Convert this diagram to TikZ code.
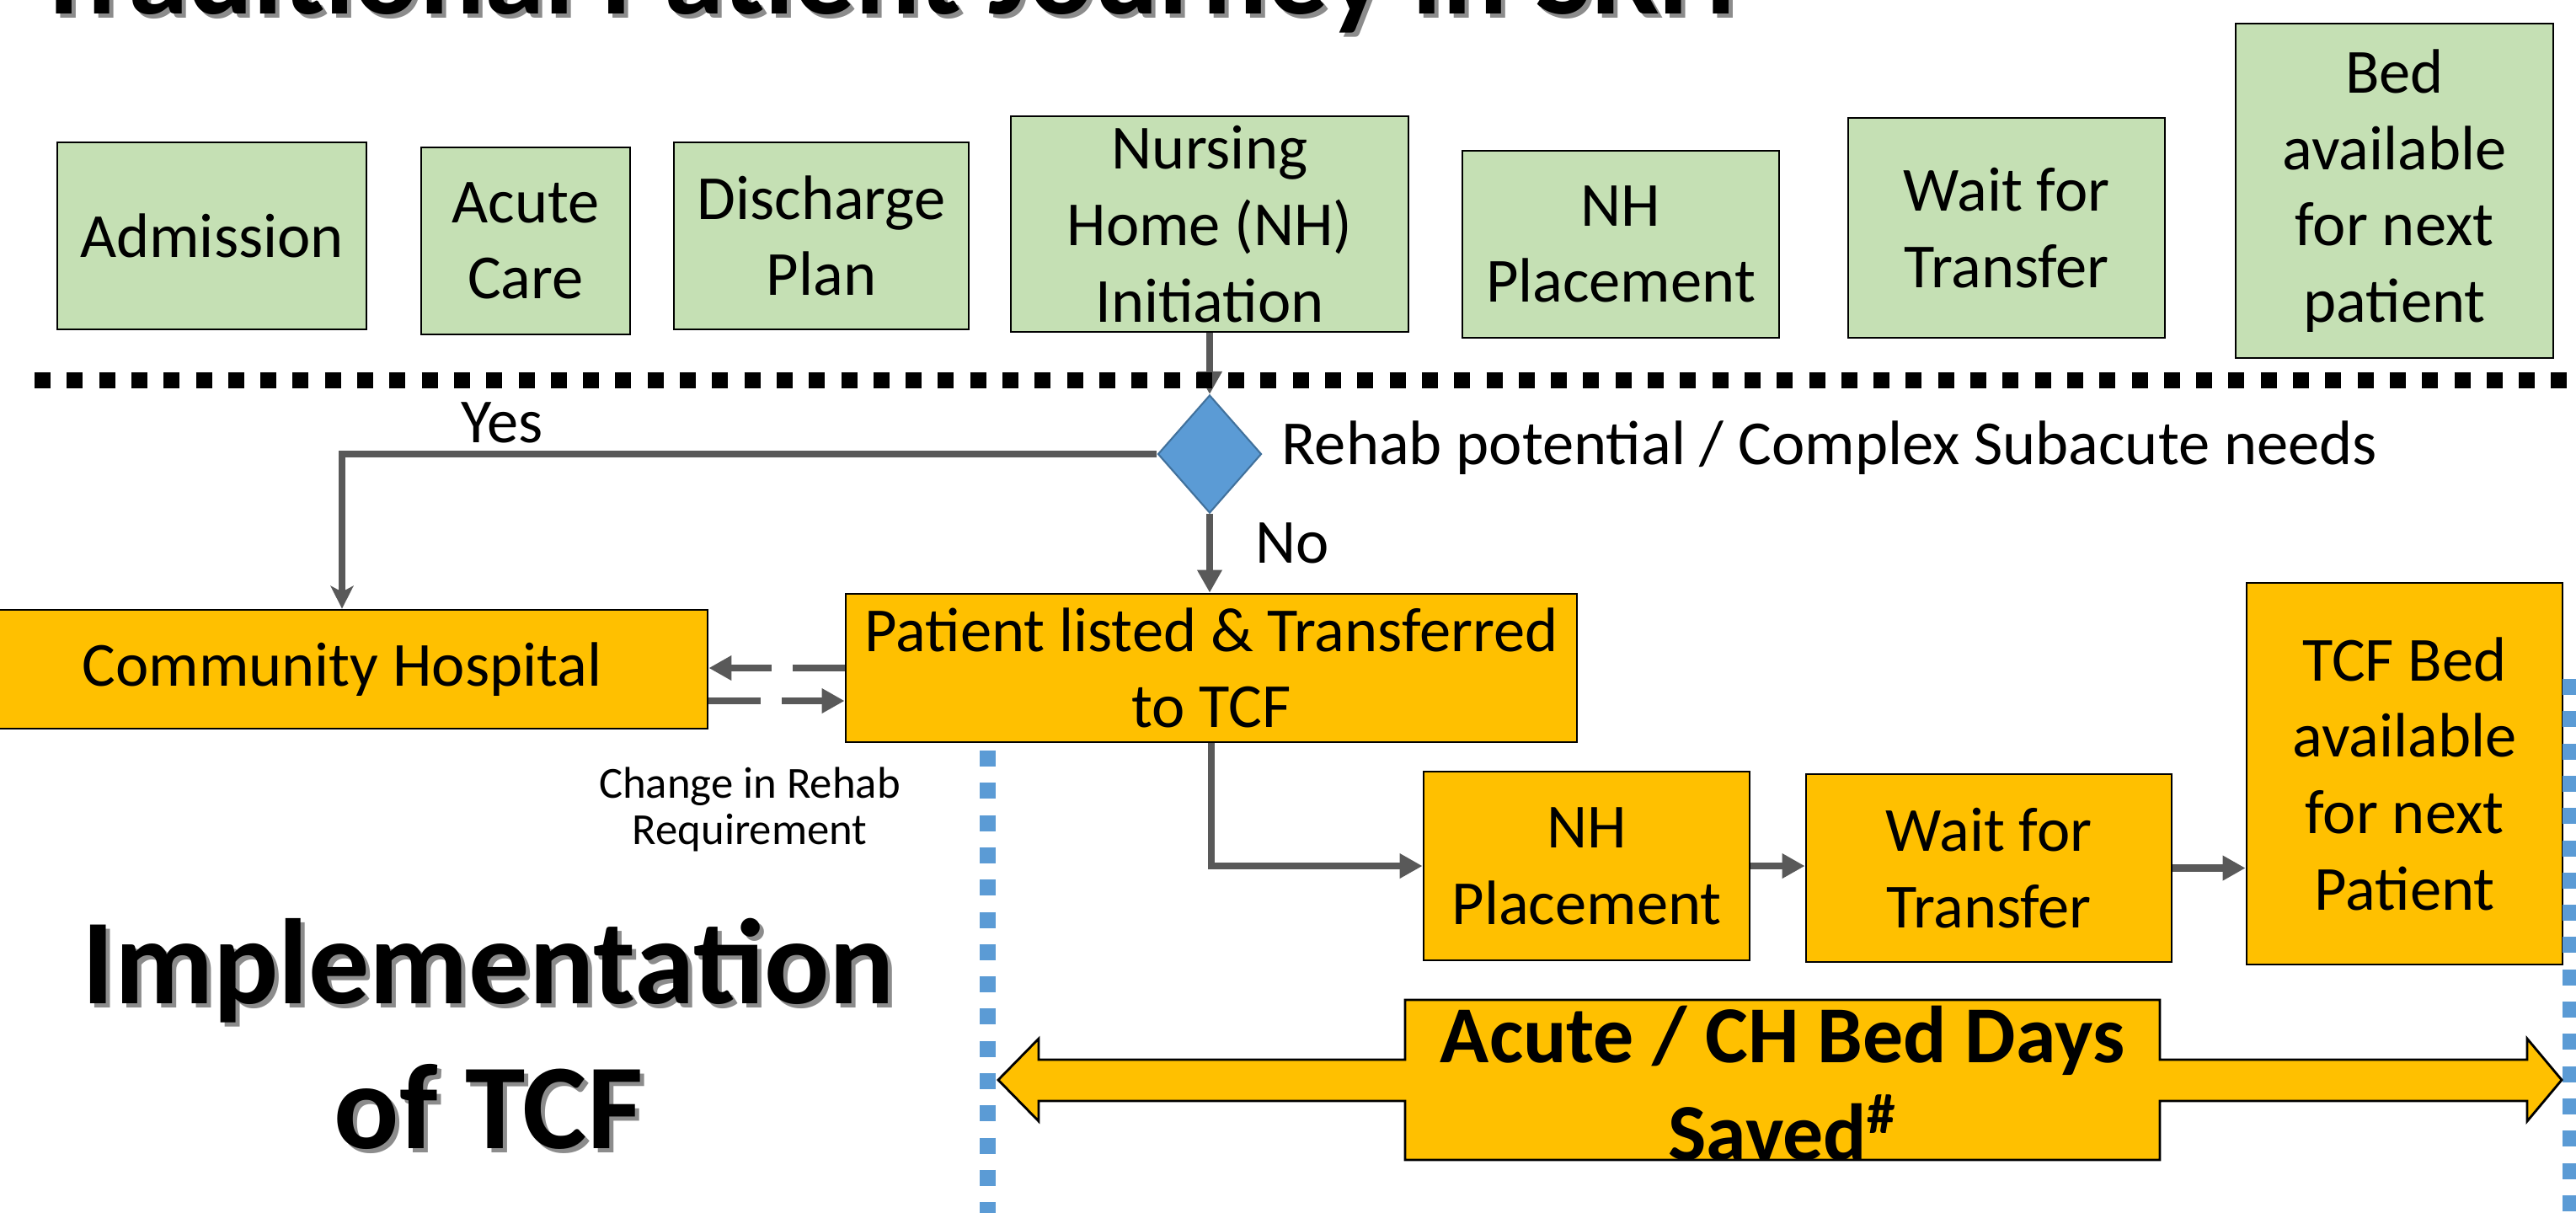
\documentclass[tikz,border=0pt]{standalone}
\usepackage{fontspec}
\setmainfont{Carlito}
\usetikzlibrary{arrows.meta,calc,shapes.geometric,positioning}
\definecolor{boxgreen}{HTML}{C5E0B4}
\definecolor{boxorange}{HTML}{FFC000}
\definecolor{diablue}{HTML}{5B9BD5}
\definecolor{diaedge}{HTML}{41719C}
\definecolor{linegray}{HTML}{595959}
\definecolor{shadowgray}{HTML}{8C8C8C}
\newcommand{\boxfont}{\fontsize{21.2}{25.8}\selectfont}
\newcommand{\headfont}{\fontsize{41}{49}\selectfont\bfseries}
\tikzset{
  box/.style={draw=black, line width=0.8pt, align=center, inner sep=0pt, font=\boxfont},
  greenbox/.style={box, fill=boxgreen},
  orangebox/.style={box, fill=boxorange},
  flow/.style={draw=linegray, line width=0.085cm, -{Triangle[length=0.27cm,width=0.28cm]}},
  dasharr/.style={flow, dash pattern=on 0.62cm off 0.25cm},
  squaredots/.style={line width=0.19cm, dash pattern=on 0.19cm off 0.193cm},
  label/.style={inner sep=0pt, font=\boxfont}
}

\begin{document}
\begin{tikzpicture}
\useasboundingbox (0,0) rectangle (30.58,-14.39);

\node[font=\headfont, text=shadowgray, anchor=base] (titleshadow) at (10.55,-0.21) {Traditional Patient Journey in SKH};
\node[font=\headfont, anchor=base] (title) at (10.50,-0.16) {Traditional Patient Journey in SKH};

\node[greenbox, minimum width=3.67cm, minimum height=2.22cm] (adm) at (2.515,-2.80) {Admission};
\node[greenbox, minimum width=2.48cm, minimum height=2.22cm] (acute) at (6.24,-2.86) {Acute\\Care};
\node[greenbox, minimum width=3.50cm, minimum height=2.22cm] (plan) at (9.75,-2.80) {Discharge\\Plan};
\node[greenbox, minimum width=4.72cm, minimum height=2.56cm] (init) at (14.36,-2.66) {Nursing\\Home (NH)\\Initiation};
\node[greenbox, minimum width=3.76cm, minimum height=2.22cm] (place) at (19.24,-2.90) {NH\\Placement};
\node[greenbox, minimum width=3.76cm, minimum height=2.61cm] (wait) at (23.82,-2.705) {Wait for\\Transfer};
\node[greenbox, minimum width=3.77cm, minimum height=3.97cm] (bed) at (28.425,-2.265) {Bed\\available\\for next\\patient};

\node[diamond, fill=diablue, draw=diaedge, line width=0.6pt, minimum width=1.23cm, minimum height=1.40cm, inner sep=0pt] (rehab) at (14.36,-5.39) {};
\node[label, anchor=west] (rehabtext) at (15.21,-5.32) {Rehab potential / Complex Subacute needs};
\node[label] (yes) at (5.96,-5.02) {Yes};
\node[label] (no) at (15.34,-6.45) {No};

\node[orangebox, minimum width=8.68cm, minimum height=1.41cm] (ch) at (4.06,-7.945) {Community Hospital};
\node[orangebox, minimum width=8.68cm, minimum height=1.76cm] (listed) at (14.38,-7.93) {Patient listed \& Transferred\\to TCF};
\node[orangebox, minimum width=3.87cm, minimum height=2.24cm] (place2) at (18.835,-10.28) {NH\\Placement};
\node[orangebox, minimum width=4.34cm, minimum height=2.23cm] (wait2) at (23.61,-10.305) {Wait for\\Transfer};
\node[orangebox, minimum width=3.75cm, minimum height=4.53cm] (bed2) at (28.545,-9.185) {TCF Bed\\available\\for next\\Patient};

\node[inner sep=0pt, align=center, font=\fontsize{15}{15.7}\selectfont] (change) at (8.90,-9.61) {Change in Rehab\\Requirement};

\draw[flow] (init.south) -- (rehab.north);
\draw[flow] (rehab.south) -- (rehab.south |- listed.north);
\draw[flow, -{Stealth[length=0.27cm,width=0.27cm,inset=0.07cm]}] (rehab.west) -| (ch.north);
\draw[dasharr] (listed.west) -- (listed.west -| ch.east);
\draw[dasharr] ([yshift=-0.375cm]ch.east) -- ([yshift=-0.375cm]ch.east -| listed.west);
\draw[flow] (listed.south) |- (place2.west);
\draw[flow] (place2.east) -- (place2.east -| wait2.west);
\draw[flow] (wait2.east) -- (wait2.east -| bed2.west);

\draw[squaredots, black] (0.41,-4.51) -- (30.7,-4.51);
\draw[squaredots, diablue] (11.72,-8.91) -- (11.72,-14.5);
\draw[squaredots, diablue] (30.515,-8.06) -- (30.515,-14.5);

\draw[fill=boxorange, line width=0.8pt] (11.85,-12.82) -- (12.33,-12.33) -- (12.33,-12.58) -- (16.68,-12.58) -- (16.68,-11.87) -- (25.64,-11.87) -- (25.64,-12.58) -- (30.00,-12.58) -- (30.00,-12.33) -- (30.41,-12.82) -- (30.00,-13.31) -- (30.00,-13.07) -- (25.64,-13.07) -- (25.64,-13.77) -- (16.68,-13.77) -- (16.68,-13.07) -- (12.33,-13.07) -- (12.33,-13.31) -- cycle;
\node[inner sep=0pt, align=center, font=\fontsize{27.3}{33}\selectfont\bfseries] (saved) at (21.16,-12.86) {Acute / CH Bed Days\\Saved\textsuperscript{\#}};

\node[font=\headfont, text=shadowgray, align=center] (implshadow) at (5.85,-12.32) {Implementation\\of TCF};
\node[font=\headfont, align=center] (impl) at (5.80,-12.27) {Implementation\\of TCF};
\end{tikzpicture}
\end{document}
